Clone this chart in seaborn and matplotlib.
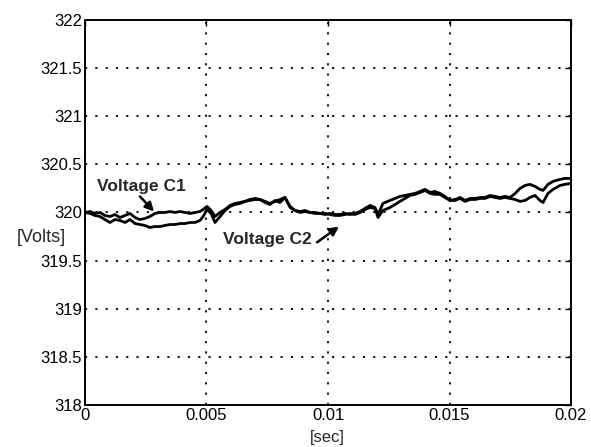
import numpy as np
import pandas as pd
import seaborn as sns
import matplotlib
matplotlib.use("Agg")
import matplotlib.pyplot as plt

# Sample times in milliseconds
time_ms = [0.00, 0.21, 0.41, 0.62, 0.82, 1.03, 1.23, 1.44, 1.65, 1.85,
           2.06, 2.26, 2.47, 2.67, 2.88, 3.09, 3.29, 3.50, 3.70, 3.91,
           4.12, 4.32, 4.53, 4.73, 4.86, 5.02, 5.19, 5.35, 5.56, 5.76,
           5.97, 6.17, 6.38, 6.58, 6.79, 7.00, 7.20, 7.41, 7.61, 7.82,
           8.02, 8.23, 8.44, 8.64, 8.85, 9.05, 9.26, 9.47, 9.67, 9.88,
           10.08, 10.29, 10.49, 10.70, 10.91, 11.11, 11.32, 11.52, 11.73, 11.93,
           12.06, 12.26, 12.55, 12.76, 12.96, 13.17, 13.37, 13.58, 13.79, 13.99,
           14.20, 14.40, 14.61, 14.81, 15.02, 15.23, 15.43, 15.64, 15.84, 16.05,
           16.26, 16.46, 16.67, 16.87, 17.08, 17.28, 17.49, 17.70, 17.90, 18.11,
           18.31, 18.52, 18.72, 18.85, 19.05, 19.26, 19.55, 19.75, 20.00]

# Capacitor voltages [V]
voltage_c1 = [320.000, 320.010, 319.990, 320.000, 319.969, 319.958, 319.979, 319.948, 319.969, 319.990,
              319.948, 319.927, 319.938, 319.958, 319.990, 320.000, 320.000, 320.010, 320.000, 320.010,
              320.000, 319.990, 320.000, 320.010, 320.031, 320.063, 320.021, 319.958, 320.000, 320.031,
              320.073, 320.094, 320.104, 320.115, 320.135, 320.146, 320.135, 320.115, 320.094, 320.115,
              320.135, 320.156, 320.063, 320.021, 320.010, 320.021, 320.000, 320.000, 319.990, 319.979,
              319.990, 319.979, 319.979, 319.990, 319.979, 319.990, 320.010, 320.042, 320.073, 320.052,
              319.979, 320.094, 320.125, 320.146, 320.167, 320.177, 320.188, 320.198, 320.219, 320.240,
              320.208, 320.219, 320.198, 320.167, 320.125, 320.135, 320.156, 320.125, 320.146, 320.146,
              320.156, 320.156, 320.177, 320.167, 320.156, 320.167, 320.156, 320.198, 320.250, 320.281,
              320.292, 320.271, 320.240, 320.229, 320.292, 320.323, 320.344, 320.354, 320.354]

voltage_c2 = [320.000, 319.990, 319.969, 319.958, 319.927, 319.896, 319.927, 319.917, 319.896, 319.927,
              319.885, 319.875, 319.865, 319.844, 319.854, 319.854, 319.865, 319.875, 319.875, 319.885,
              319.885, 319.896, 319.896, 319.917, 319.958, 320.031, 319.990, 319.896, 319.958, 320.021,
              320.063, 320.083, 320.094, 320.115, 320.125, 320.135, 320.135, 320.104, 320.083, 320.125,
              320.104, 320.156, 320.052, 320.021, 320.000, 320.010, 320.000, 319.990, 319.990, 319.990,
              319.979, 319.969, 319.969, 319.979, 319.990, 319.979, 320.000, 320.031, 320.052, 320.042,
              319.948, 320.021, 320.052, 320.083, 320.115, 320.146, 320.177, 320.188, 320.208, 320.229,
              320.198, 320.188, 320.188, 320.156, 320.125, 320.125, 320.146, 320.115, 320.135, 320.135,
              320.146, 320.146, 320.167, 320.156, 320.146, 320.156, 320.146, 320.135, 320.115, 320.125,
              320.156, 320.177, 320.125, 320.104, 320.198, 320.240, 320.281, 320.292, 320.302]

x_ticks = [0, 0.005, 0.01, 0.015, 0.02]
x_tick_labels = ["0", "0.005", "0.01", "0.015", "0.02"]
y_ticks = [318, 318.5, 319, 319.5, 320, 320.5, 321, 321.5, 322]
y_tick_labels = ["318", "318.5", "319", "319.5", "320", "320.5", "321", "321.5", "322"]

sns.set_style("white")
plt.rcParams["font.family"] = ["Liberation Sans", "DejaVu Sans"]

t_sec = np.array(time_ms) / 1000.0
df = pd.DataFrame({
    "t": np.concatenate([t_sec, t_sec]),
    "v": np.concatenate([voltage_c1, voltage_c2]),
    "series": ["Voltage C1"] * len(t_sec) + ["Voltage C2"] * len(t_sec),
})

fig = plt.figure(figsize=(5.91, 4.47), dpi=100)
ax = fig.add_axes([0.1438, 0.094, 0.8224, 0.8613])

sns.lineplot(data=df, x="t", y="v", units="series", estimator=None,
             color="black", linewidth=2.0, ax=ax, legend=False)

ax.set_xlim(0, 0.02)
ax.set_ylim(318, 322)
ax.set_xticks(x_ticks)
ax.set_xticklabels(x_tick_labels)
ax.set_yticks(y_ticks)
ax.set_yticklabels(y_tick_labels)
ax.tick_params(direction="in", length=4, width=1, colors="black",
               labelsize=12, pad=2, top=True, right=True)
ax.grid(True, color="black", linestyle=(0, (1.2, 4.5)), linewidth=1.3)
for side in ax.spines.values():
    side.set_color("black")
    side.set_linewidth(1.4)

ax.set_xlabel("")
ax.set_ylabel("")
fig.text(0.112, 0.468, "[Volts]", fontsize=13, ha="right", va="center")
fig.text(0.553, 0.022, "[sec]", fontsize=12, ha="center", va="center")

# Curve labels with pointer arrows
ax.text(0.00049, 320.27, "Voltage C1", fontsize=12.5, fontweight="bold",
        ha="left", va="center")
ax.annotate("", xy=(0.00284, 320.01), xytext=(0.00226, 320.167),
            arrowprops=dict(arrowstyle="-|>", color="black", lw=1.8,
                            shrinkA=0, shrinkB=0, mutation_scale=13))
ax.text(0.00935, 319.715, "Voltage C2", fontsize=12.5, fontweight="bold",
        ha="right", va="center")
ax.annotate("", xy=(0.01045, 319.854), xytext=(0.00955, 319.69),
            arrowprops=dict(arrowstyle="-|>", color="black", lw=1.8,
                            shrinkA=0, shrinkB=0, mutation_scale=13))

fig.savefig("out.png", dpi=100)
